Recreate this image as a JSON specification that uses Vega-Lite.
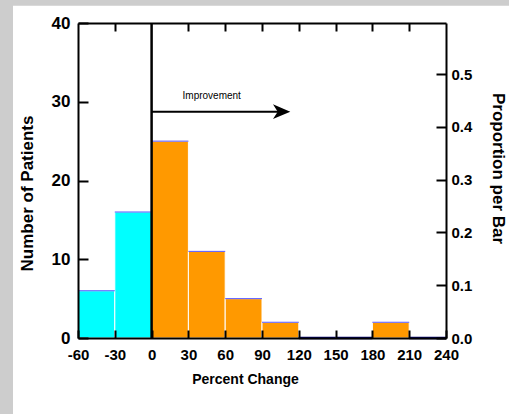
{
  "$schema": "https://vega.github.io/schema/vega-lite/v6.json",
  "width": 368,
  "height": 315,
  "autosize": {"type": "none"},
  "padding": {"left": 78, "top": 23, "right": 63, "bottom": 76},
  "background": "#cdcdcd",
  "config": {
    "view": {"stroke": null},
    "axis": {
      "grid": false,
      "labelOverlap": false,
      "domainColor": "black",
      "domainWidth": 2,
      "tickColor": "black",
      "tickWidth": 2,
      "labelColor": "black",
      "labelFont": "Liberation Sans",
      "labelFontWeight": "bold",
      "labelFontSize": 15,
      "titleColor": "black",
      "titleFont": "Liberation Sans",
      "titleFontWeight": "bold",
      "titleFontSize": 17
    }
  },
  "datasets": {
    "bins": [
      {"start": -60, "end": -30, "count": 6, "group": "Worse"},
      {"start": -30, "end": 0, "count": 16, "group": "Worse"},
      {"start": 0, "end": 30, "count": 25, "group": "Improved"},
      {"start": 30, "end": 60, "count": 11, "group": "Improved"},
      {"start": 60, "end": 90, "count": 5, "group": "Improved"},
      {"start": 90, "end": 120, "count": 2, "group": "Improved"},
      {"start": 120, "end": 150, "count": 0, "group": "Improved"},
      {"start": 150, "end": 180, "count": 0, "group": "Improved"},
      {"start": 180, "end": 210, "count": 2, "group": "Improved"},
      {"start": 210, "end": 240, "count": 0, "group": "Improved"}
    ],
    "panel": [{"x1": -113, "x2": 292, "y1": 42.2, "y2": -9.8}],
    "arrow": [{"x1": 0, "x2": 105, "head": 106, "y": 28.74}],
    "label": [{"x": 49, "y": 30.3, "text": "Improvement"}]
  },
  "resolve": {"scale": {"y": "independent"}, "axis": {"x": "independent"}},
  "layer": [
    {
      "layer": [
        {
          "data": {"name": "panel"},
          "mark": {"type": "rect", "fill": "white", "stroke": null},
          "encoding": {
            "x": {"field": "x1", "type": "quantitative", "scale": {"domain": [-60, 240], "nice": false, "zero": false},
              "axis": {"zindex": 2, "orient": "bottom", "title": "Percent Change", "titleFontSize": 14, "values": [-60, -30, 0, 30, 60, 90, 120, 150, 180, 210, 240], "labelExpr": "'' + datum.value", "tickCount": 30, "tickSize": -8, "labelPadding": 17, "labelFontSize": 15, "labelFlush": false, "labelOverlap": false, "titlePadding": 10, "titleX": 167}},
            "x2": {"field": "x2"},
            "y": {"field": "y1", "type": "quantitative", "scale": {"domain": [0, 40], "nice": false},
              "axis": {"zindex": 2, "orient": "left", "title": "Number of Patients", "values": [0, 10, 20, 30, 40], "tickCount": 10, "tickSize": -10, "labelPadding": 18, "labelFontSize": 17, "labelBaseline": "middle", "titlePadding": 15, "titleY": 170}},
            "y2": {"field": "y2"}
          }
        },
        {
          "data": {"name": "bins"},
          "mark": {"type": "rect", "stroke": "white", "strokeWidth": 1},
          "encoding": {
            "x": {"field": "start", "type": "quantitative", "scale": {"domain": [-60, 240], "nice": false, "zero": false}, "title": "Percent Change"},
            "x2": {"field": "end"},
            "y": {"field": "count", "type": "quantitative", "scale": {"domain": [0, 40], "nice": false}, "title": "Number of Patients"},
            "y2": {"datum": 0},
            "color": {"field": "group", "type": "nominal", "scale": {"domain": ["Worse", "Improved"], "range": ["#00ffff", "#ff9900"]}, "legend": null}
          }
        },
        {
          "data": {"name": "bins"},
          "transform": [{"filter": "datum.count > 0"}],
          "mark": {"type": "rule", "color": "#5555ff", "strokeWidth": 1},
          "encoding": {
            "x": {"field": "start", "type": "quantitative", "scale": {"domain": [-60, 240], "nice": false, "zero": false}, "title": "Percent Change"},
            "x2": {"field": "end"},
            "y": {"field": "count", "type": "quantitative", "scale": {"domain": [0, 40], "nice": false}, "title": "Number of Patients"}
          }
        },
        {
          "data": {"name": "arrow"},
          "mark": {"type": "rule", "color": "black", "strokeWidth": 2.5},
          "encoding": {
            "x": {"datum": 0, "type": "quantitative", "scale": {"domain": [-60, 240], "nice": false, "zero": false}, "title": "Percent Change"},
            "y": {"datum": 0, "type": "quantitative", "scale": {"domain": [0, 40], "nice": false}, "title": "Number of Patients"},
            "y2": {"datum": 40}
          }
        },
        {
          "data": {"name": "arrow"},
          "mark": {"type": "rule", "color": "black", "strokeWidth": 2},
          "encoding": {
            "x": {"field": "x1", "type": "quantitative", "scale": {"domain": [-60, 240], "nice": false, "zero": false}, "title": "Percent Change"},
            "x2": {"field": "x2"},
            "y": {"field": "y", "type": "quantitative", "scale": {"domain": [0, 40], "nice": false}, "title": "Number of Patients"}
          }
        },
        {
          "data": {"name": "arrow"},
          "mark": {"type": "point", "shape": "M1,0L-1,-0.85L-0.45,0L-1,0.85Z", "size": 300, "filled": true, "color": "black", "opacity": 1, "strokeWidth": 0},
          "encoding": {
            "x": {"field": "head", "type": "quantitative", "scale": {"domain": [-60, 240], "nice": false, "zero": false}, "title": "Percent Change"},
            "y": {"field": "y", "type": "quantitative", "scale": {"domain": [0, 40], "nice": false}, "title": "Number of Patients"}
          }
        },
        {
          "data": {"name": "label"},
          "mark": {"type": "text", "font": "Liberation Sans", "fontSize": 10, "color": "black", "baseline": "alphabetic", "align": "center"},
          "encoding": {
            "x": {"field": "x", "type": "quantitative", "scale": {"domain": [-60, 240], "nice": false, "zero": false}, "title": "Percent Change"},
            "y": {"field": "y", "type": "quantitative", "scale": {"domain": [0, 40], "nice": false}, "title": "Number of Patients"},
            "text": {"field": "text"}
          }
        }
      ]
    },
    {
      "data": {"name": "bins"},
      "transform": [{"filter": "datum.count == 0"}],
      "mark": {"type": "rule", "color": "#000070", "strokeWidth": 2.5},
      "encoding": {
        "x": {"field": "start", "type": "quantitative", "scale": {"domain": [-60, 240], "nice": false, "zero": false},
          "axis": {"zindex": 2, "orient": "top", "title": null, "labels": false, "values": [-30, 30, 60, 90, 120, 150, 180, 210], "tickCount": 30, "tickSize": -8, "domain": true}},
        "x2": {"field": "end"},
        "y": {"datum": 0, "type": "quantitative", "scale": {"domain": [0, 0.597], "nice": false},
          "axis": {"zindex": 2, "orient": "right", "title": "Proportion per Bar", "titleAngle": 90, "values": [0, 0.1, 0.2, 0.3, 0.4, 0.5], "tickCount": 10, "format": ".1f", "tickSize": -10, "labelPadding": 15, "labelBaseline": "middle", "titlePadding": 17, "titleY": 145}}
      }
    }
  ]
}
